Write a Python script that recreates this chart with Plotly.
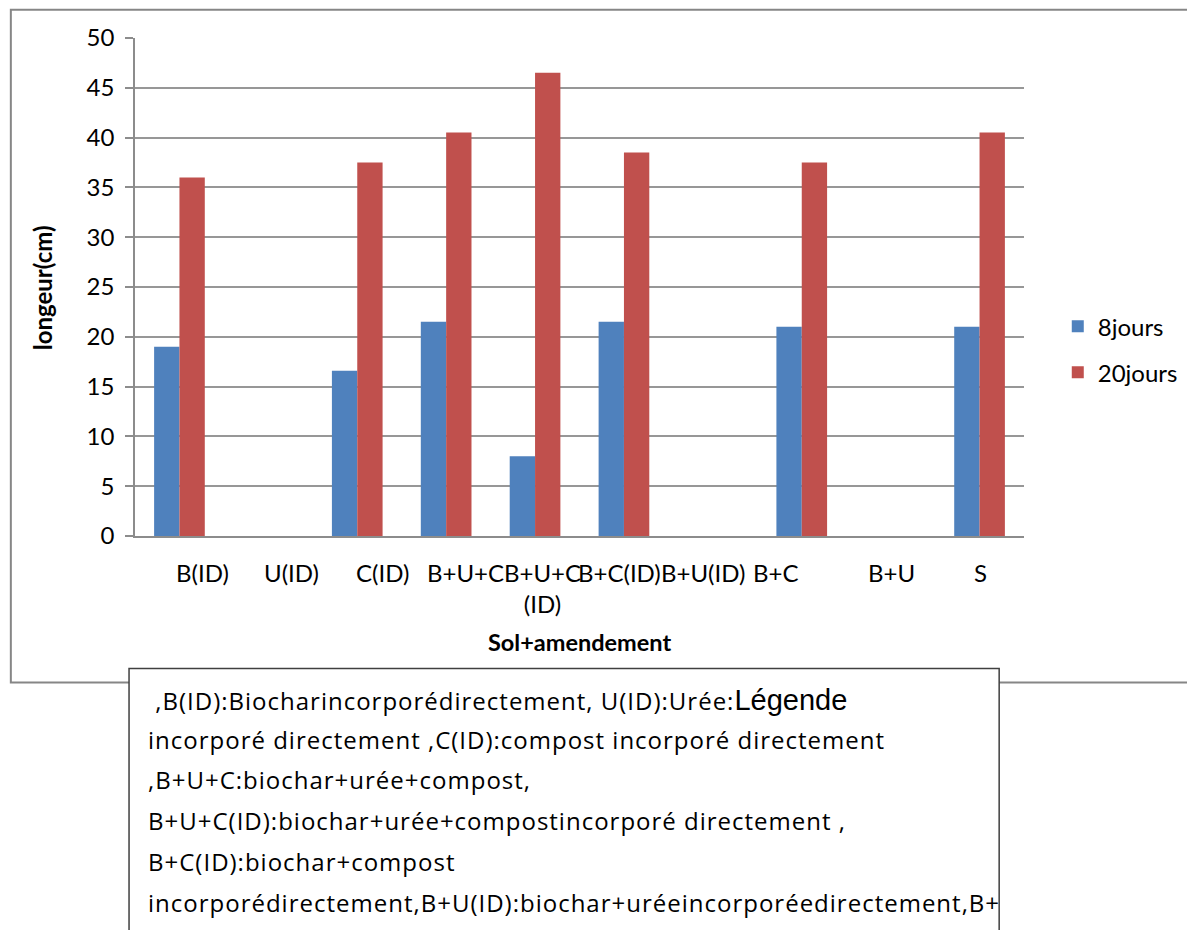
import plotly.graph_objects as go

categories = ["B(ID)", "U(ID)", "C(ID)", "B+U+C", "B+U+C(ID)", "B+C(ID)", "B+U(ID)", "B+C", "B+U", "S"]
tick_labels = ["B(ID)", "U(ID)", "C(ID)", "B+U+C", "B+U+C<br>(ID)", "B+C(ID)", "B+U(ID)", "B+C", "B+U", "S"]
label_shift = [23, 23, 25, 19, 7, -4, -10, -26, 1, 1]
jours8 = [19.0, None, 16.6, 21.5, 8.0, 21.5, None, 21.0, None, 21.0]
jours20 = [36.0, None, 37.5, 40.5, 46.5, 38.5, None, 37.5, None, 40.5]
y_ticks = [0, 5, 10, 15, 20, 25, 30, 35, 40, 45, 50]

note_lines = [
    " ,B(ID):Biocharincorporédirectement, U(ID):Urée:<span style='font-family:Liberation Sans;font-size:29px;letter-spacing:0px'>Légende</span>",
    "incorporé directement ,C(ID):compost incorporé directement",
    ",B+U+C:biochar+urée+compost,",
    "B+U+C(ID):biochar+urée+compostincorporé directement ,",
    "B+C(ID):biochar+compost",
    "incorporédirectement,B+U(ID):biochar+uréeincorporéedirectement,B+",
]

FONT = "Lato"
FS = 24
NOTE_FONT = "Open Sans"
NOTE_FS = 24

OFF = 8  # page body margin
W, H = 1195 - OFF, 930 - OFF
L, R = 135, 1030
T, B = 38.3, 536.5

def px(x):
    return (x - L) / (R - L)

def py(y):
    return (B - y) / (B - T)

fig = go.Figure()
fig.add_trace(go.Bar(name="8jours", x=categories, y=jours8, marker_color="#4F81BD",
                     marker_line_width=0, legendgroup="a"))
fig.add_trace(go.Bar(name="20jours", x=categories, y=jours20, marker_color="#C0504D",
                     marker_line_width=0, legendgroup="b"))

shapes = [
    dict(type="rect", xref="paper", yref="paper", x0=px(10), x1=px(1215), y0=py(683), y1=py(10),
         line=dict(color="#868686", width=2), fillcolor="rgba(0,0,0,0)", layer="below"),
    dict(type="rect", xref="paper", yref="paper", x0=px(129), x1=px(1005), y0=py(945), y1=py(669),
         line=dict(color="#404040", width=1.5), fillcolor="white", layer="above"),
]

annotations = []
for c, t, s in zip(categories, tick_labels, label_shift):
    annotations.append(dict(x=c, xref="x", y=py(557), yref="paper", text=t, showarrow=False,
                            xanchor="center", yanchor="top", xshift=s, align="center",
                            font=dict(family=FONT, size=FS, color="black")))
annotations.append(dict(x=px(582.5), y=py(643), xref="paper", yref="paper", text="<b>Sol+amendement</b>",
                        showarrow=False, xanchor="center", yanchor="middle",
                        font=dict(family=FONT, size=FS - 0.5, color="black")))
annotations.append(dict(x=px(42), y=py(288), xref="paper", yref="paper", text="<b>longeur(cm)</b>",
                        showarrow=False, xanchor="center", yanchor="middle", textangle=-90,
                        font=dict(family=FONT, size=FS, color="black")))
line_y = [701, 740, 780, 821, 862, 903]
for t, yy in zip(note_lines, line_y):
    annotations.append(dict(x=px(146), y=py(yy), xref="paper", yref="paper",
                            text="<span style='letter-spacing:1px'>" + t + "</span>",
                            showarrow=False, xanchor="left", yanchor="middle", align="left",
                            font=dict(family=NOTE_FONT, size=NOTE_FS, color="black")))

fig.update_layout(
    width=W, height=H,
    margin=dict(l=L - OFF, r=W - (R - OFF), t=T - OFF, b=H - (B - OFF), pad=0),
    paper_bgcolor="white", plot_bgcolor="white",
    barmode="group", bargap=0.43, bargroupgap=0,
    font=dict(family=FONT, size=FS, color="black"),
    showlegend=True,
    legend=dict(x=px(1064), y=py(350), xanchor="left", yanchor="middle",
                font=dict(family=FONT, size=FS, color="black"),
                tracegroupgap=12, traceorder="grouped", bgcolor="rgba(0,0,0,0)"),
    xaxis=dict(showticklabels=False, showline=True, linecolor="#8c8c8c", linewidth=1.5,
               ticks="", showgrid=False, fixedrange=True),
    yaxis=dict(range=[0, 50], tickvals=y_ticks, ticks="outside", ticklen=8, tickcolor="#8c8c8c",
               tickwidth=1.5, showline=True, linecolor="#8c8c8c", linewidth=1.5,
               gridcolor="#979797", gridwidth=1.5, zeroline=False,
               tickfont=dict(family=FONT, size=FS, color="black"), ticklabelstandoff=6),
    shapes=shapes,
    annotations=annotations,
)

fig.write_html("out.html")
